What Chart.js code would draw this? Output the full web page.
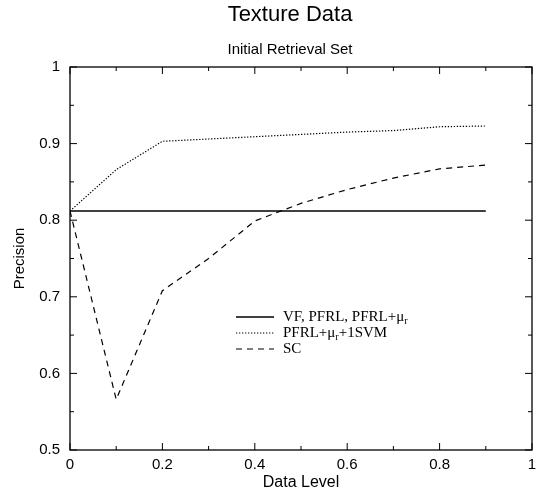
<!DOCTYPE html>
<html>
<head>
<meta charset="utf-8">
<script src="https://cdn.jsdelivr.net/npm/chart.js@4.4.1/dist/chart.umd.min.js"></script>
<style>
  html, body { margin: 0; background: #fff; }
  #wrap { width: 543px; height: 497px; }
</style>
</head>
<body>
<div id="wrap"><canvas id="c"></canvas></div>
<script>
// data
const levels = [0, 0.1, 0.2, 0.3, 0.4, 0.5, 0.6, 0.7, 0.8, 0.9];
const flatVals = [0.812, 0.812, 0.812, 0.812, 0.812, 0.812, 0.812, 0.812, 0.812, 0.812];
const svmVals = [0.812, 0.866, 0.903, 0.906, 0.909, 0.912, 0.915, 0.917, 0.922, 0.923];
const scVals = [0.812, 0.566, 0.708, 0.750, 0.799, 0.822, 0.840, 0.855, 0.867, 0.872];
// {r} marks a subscript
const seriesNames = ['VF, PFRL, PFRL+\u03bc{r}', 'PFRL+\u03bc{r}+1SVM', 'SC'];
const xTickLabels = ['0', '0.2', '0.4', '0.6', '0.8', '1'];
const yTickLabels = ['0.5', '0.6', '0.7', '0.8', '0.9', '1'];

const SANS = '"Liberation Sans", Arial, Helvetica, sans-serif';
const SERIF = '"Liberation Serif", "Times New Roman", serif';

function pts(vals) { return levels.map((x, i) => ({ x: x, y: vals[i] })); }

// titles on top of the plot
const titlesPlugin = {
  id: 'titles',
  afterDraw(chart) {
    const ctx = chart.ctx;
    ctx.save();
    ctx.fillStyle = '#000';
    ctx.textAlign = 'center';
    ctx.textBaseline = 'middle';
    ctx.font = '22px ' + SANS;
    ctx.fillText('Texture Data', 290, 15);
    ctx.font = '15px ' + SANS;
    ctx.fillText('Initial Retrieval Set', 290, 50);
    ctx.restore();
  }
};

// box round the plot with inward ticks on every side
const framePlugin = {
  id: 'frame',
  afterDatasetsDraw(chart) {
    const { ctx, chartArea: a, scales } = chart;
    const xs = scales.x, ys = scales.y;
    ctx.save();
    ctx.strokeStyle = '#000';
    ctx.lineWidth = 1.3;
    ctx.strokeRect(a.left, a.top, a.right - a.left, a.bottom - a.top);
    ctx.lineWidth = 1;
    ctx.beginPath();
    for (let i = 0; i <= 10; i++) {
      const px = xs.getPixelForValue(i / 10);
      const len = i % 2 === 0 ? 7 : 4;
      ctx.moveTo(px, a.bottom); ctx.lineTo(px, a.bottom - len);
      ctx.moveTo(px, a.top); ctx.lineTo(px, a.top + len);
    }
    for (let i = 0; i <= 10; i++) {
      const py = ys.getPixelForValue(0.5 + i * 0.05);
      const len = i % 2 === 0 ? 7 : 4;
      ctx.moveTo(a.left, py); ctx.lineTo(a.left + len, py);
      ctx.moveTo(a.right, py); ctx.lineTo(a.right - len, py);
    }
    ctx.stroke();
    ctx.restore();
  }
};

// legend in the lower middle of the plot, with subscripts
const legendPlugin = {
  id: 'subLegend',
  afterDatasetsDraw(chart) {
    const ctx = chart.ctx;
    const a = chart.chartArea;
    const x0 = a.left + 166, x1 = a.left + 204, tx = a.left + 213;
    const y0 = a.top + 250, dy = 16;
    ctx.save();
    chart.data.datasets.forEach((ds, i) => {
      const y = y0 + i * dy;
      ctx.strokeStyle = ds.borderColor;
      ctx.lineWidth = ds.borderWidth;
      ctx.setLineDash(ds.borderDash || []);
      ctx.beginPath();
      ctx.moveTo(x0, y); ctx.lineTo(x1, y);
      ctx.stroke();
      ctx.setLineDash([]);
      ctx.fillStyle = '#000';
      ctx.textAlign = 'left';
      ctx.textBaseline = 'middle';
      let cx = tx;
      ds.label.split(/(\{[^}]*\})/).forEach(part => {
        if (!part) return;
        if (part[0] === '{') {
          ctx.font = '10px ' + SERIF;
          const s = part.slice(1, -1);
          ctx.fillText(s, cx, y + 4);
          cx += ctx.measureText(s).width;
        } else {
          ctx.font = '15px ' + SERIF;
          ctx.fillText(part, cx, y);
          cx += ctx.measureText(part).width;
        }
      });
    });
    ctx.restore();
  }
};

new Chart(document.getElementById('c'), {
  type: 'line',
  data: {
    datasets: [
      { label: seriesNames[0], data: pts(flatVals), borderColor: '#000', borderWidth: 1.5, borderDash: [] },
      { label: seriesNames[1], data: pts(svmVals), borderColor: '#000', borderWidth: 1.2, borderDash: [1.3, 1.7] },
      { label: seriesNames[2], data: pts(scVals), borderColor: '#000', borderWidth: 1.2, borderDash: [6, 5] }
    ]
  },
  options: {
    responsive: true,
    maintainAspectRatio: false,
    animation: false,
    layout: { padding: { top: 67, right: 11, left: 0, bottom: 0 } },
    elements: { point: { radius: 0 }, line: { tension: 0 } },
    plugins: { legend: { display: false }, tooltip: { enabled: false } },
    scales: {
      x: {
        type: 'linear', min: 0, max: 1,
        afterFit(s) { s.height = 47; },
        grid: { display: false, drawTicks: false },
        border: { display: false },
        ticks: {
          stepSize: 0.2, padding: 6, color: '#000', font: { family: SANS, size: 15 },
          callback: (v, i) => xTickLabels[i]
        },
        title: { display: true, text: 'Data Level', color: '#000', font: { family: SANS, size: 16 }, padding: { top: 0, bottom: 5 } }
      },
      y: {
        type: 'linear', min: 0.5, max: 1,
        afterFit(s) { s.width = 70; },
        grid: { display: false, drawTicks: false },
        border: { display: false },
        ticks: {
          stepSize: 0.1, padding: 10, color: '#000', font: { family: SANS, size: 15 },
          callback: (v, i) => yTickLabels[i]
        },
        title: { display: true, text: 'Precision', color: '#000', font: { family: SANS, size: 15 }, padding: { top: 11, bottom: 0 } }
      }
    }
  },
  plugins: [titlesPlugin, framePlugin, legendPlugin]
});
</script>
</body>
</html>
